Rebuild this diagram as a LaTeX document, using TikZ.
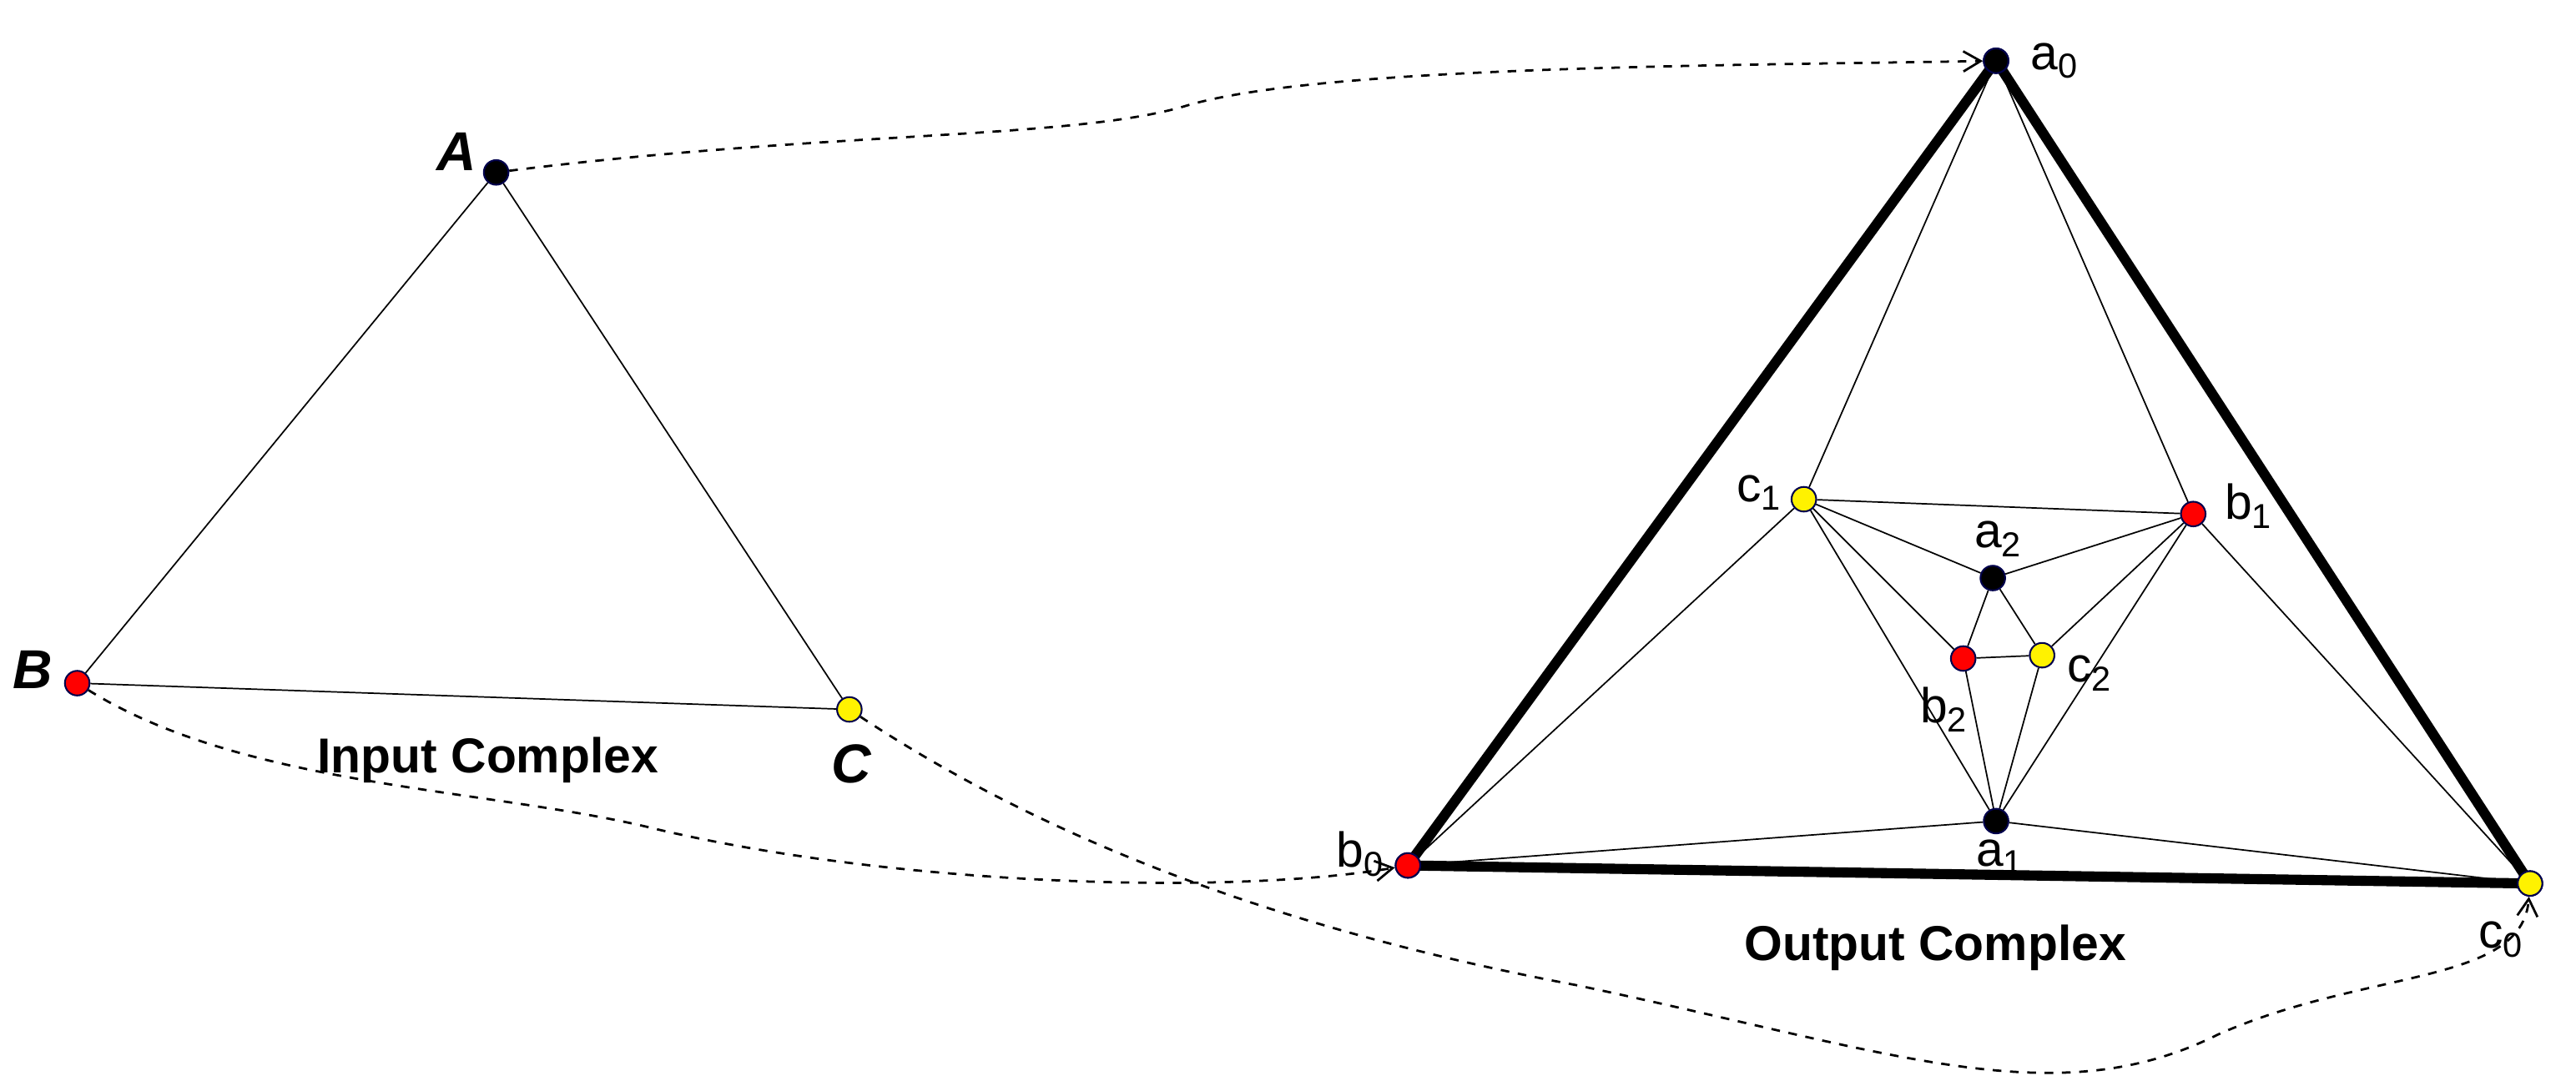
\documentclass[tikz,border=0pt]{standalone}
\usepackage{fontspec}
\setmainfont{Liberation Sans}
\usetikzlibrary{arrows.meta}
\newcommand{\sbx}[1]{\raisebox{-0.35ex}{\fontsize{12}{12}\selectfont #1}}
\begin{document}
\begin{tikzpicture}[x=0.02cm,y=-0.02cm,
 vtx/.style={circle,draw=black!70!blue,line width=0.6pt,inner sep=0pt,minimum size=0.3cm},
 blk/.style={vtx,fill=black},red/.style={vtx,fill=red},yel/.style={vtx,fill=yellow},
 thin/.style={line width=0.5pt},thick/.style={line width=3.5pt},
 dsh/.style={dashed,line width=0.8pt,-{Straight Barb[length=6pt,width=7pt]}},
 lab/.style={font=\fontsize{17}{17}\selectfont},
 big/.style={font=\fontsize{19}{19}\selectfont\bfseries\itshape},
 ttl/.style={font=\fontsize{17}{17}\selectfont\bfseries}]
\useasboundingbox (0,0) rectangle (1568,664);
\node[blk] (A) at (302,105) {};
\node[red] (B) at (47,416) {};
\node[yel] (C) at (517,432) {};
\draw[thin] (A)--(B)--(C)--(A);
\node[big,anchor=south east] (lA) at (296,110) {A};
\node[big,anchor=east] (lB) at (38,408) {B};
\node[big] (lC) at (518,465) {C};
\node[ttl] (t1) at (297,463) {Input Complex};
\node[ttl] (t2) at (1178,577) {Output Complex};
\node[blk] (a0) at (1215,37) {};
\node[red] (b0) at (857,527) {};
\node[yel] (c0) at (1540,538) {};
\node[yel] (c1) at (1098,304) {};
\node[red] (b1) at (1335,313) {};
\node[blk] (a2) at (1213,352) {};
\node[red] (b2) at (1195,401) {};
\node[yel] (c2) at (1243,399) {};
\node[blk] (a1) at (1215,500) {};
\foreach \p/\q in {a0/c1,a0/b1,b0/c1,b0/a1,c0/a1,c0/b1,c1/b1,c1/a2,c1/b2,c1/a1,b1/a2,b1/c2,b1/a1,a2/b2,a2/c2,b2/c2,b2/a1,c2/a1}
  \draw[thin] (\p)--(\q);
\draw[thick,line join=miter] (a0.center)--(b0.center)--(c0.center)--cycle;
\node[blk] at (a0) {};\node[red] at (b0) {};\node[yel] at (c0) {};
\node[lab,anchor=west] at (1230,37) {a\sbx{0}};
\node[lab,anchor=east] at (848,520) {b\sbx{0}};
\node[lab] at (1522,572) {c\sbx{0}};
\node[lab,anchor=east] at (1090,300) {c\sbx{1}};
\node[lab,anchor=west] at (1348,308) {b\sbx{1}};
\node[lab] at (1216,328) {a\sbx{2}};
\node[lab] at (1183,432) {b\sbx{2}};
\node[lab,anchor=west] at (1252,410) {c\sbx{2}};
\node[lab] at (1217,522) {a\sbx{1}};
\draw[dsh] (A) .. controls (500,80) and (650,85) .. (720,65) .. controls (800,40) and (1050,40) .. (a0);
\draw[dsh] (B) .. controls (150,480) and (300,480) .. (400,505) .. controls (550,540) and (750,545) .. (b0);
\draw[dsh] (C) .. controls (650,520) and (800,570) .. (960,600) .. controls (1150,640) and (1250,680) .. (1350,630) .. controls (1440,590) and (1535,600) .. (c0);
\end{tikzpicture}
\end{document}
